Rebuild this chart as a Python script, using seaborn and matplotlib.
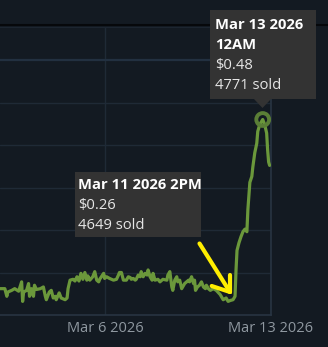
import matplotlib
matplotlib.use("Agg")
import matplotlib.pyplot as plt
import matplotlib.transforms as mtransforms
from matplotlib.lines import Line2D
from matplotlib.patches import Rectangle, Polygon
import seaborn as sns
import pandas as pd

# ---- data (hours since 2026-03-01 00:00, median price in $) ----
hours = [22, 27, 29, 30, 34, 37, 41, 44, 45, 46, 49, 51, 52, 54, 56, 57, 59, 63, 66, 68,
         69, 72, 74, 76, 78, 79, 82, 84, 88, 90, 91, 93, 96, 98, 100, 102, 104, 106, 108, 110,
         111, 113, 116, 118, 120, 122, 123, 127, 128, 130, 133, 137, 140, 142, 143, 145, 147, 150, 152, 154,
         155, 157, 159, 160, 162, 164, 165, 167, 169, 171, 172, 174, 176, 177, 179, 182, 184, 187, 191, 192,
         194, 196, 197, 199, 201, 202, 204, 206, 208, 209, 211, 213, 214, 216, 218, 219, 220, 222, 224, 226,
         228, 230, 231, 233, 235, 238, 241, 245, 247, 248, 251, 253, 255, 258, 260, 261, 262, 264, 266, 268,
         270, 272, 273, 275, 277, 278, 280, 282, 283, 285, 288, 290, 292, 293, 294, 295]
prices = [0.281, 0.281, 0.272, 0.277, 0.279, 0.281, 0.278, 0.289, 0.266, 0.277, 0.279, 0.287, 0.272, 0.281, 0.272, 0.285, 0.280, 0.281, 0.283, 0.272,
          0.268, 0.277, 0.279, 0.270, 0.272, 0.268, 0.276, 0.270, 0.268, 0.270, 0.281, 0.291, 0.292, 0.290, 0.295, 0.290, 0.299, 0.292, 0.300, 0.291,
          0.296, 0.291, 0.295, 0.301, 0.291, 0.289, 0.292, 0.299, 0.293, 0.295, 0.293, 0.291, 0.292, 0.297, 0.300, 0.300, 0.291, 0.291, 0.295, 0.294,
          0.292, 0.293, 0.291, 0.292, 0.297, 0.295, 0.301, 0.295, 0.299, 0.297, 0.303, 0.295, 0.291, 0.299, 0.291, 0.292, 0.289, 0.292, 0.291, 0.297,
          0.301, 0.283, 0.279, 0.291, 0.295, 0.289, 0.291, 0.281, 0.285, 0.287, 0.289, 0.291, 0.289, 0.295, 0.287, 0.291, 0.279, 0.283, 0.285, 0.289,
          0.283, 0.281, 0.285, 0.281, 0.279, 0.281, 0.279, 0.274, 0.270, 0.268, 0.270, 0.266, 0.267, 0.268, 0.272, 0.303, 0.326, 0.335, 0.342, 0.348,
          0.351, 0.348, 0.374, 0.406, 0.413, 0.424, 0.441, 0.452, 0.466, 0.474, 0.480, 0.474, 0.464, 0.444, 0.430, 0.426]

tick_hours = [128.4, 296.4]
tick_labels = ["Mar 6 2026", "Mar 13 2026"]
y_grid = [0.30, 0.35, 0.40, 0.45, 0.50, 0.55]
tip1_lines = ["Mar 13 2026", "12AM", "$0.48", "4771 sold"]
tip2_lines = ["Mar 11 2026 2PM", "$0.26", "4649 sold"]

# ---- style ----
W, H = 328, 347
BG = "#131a22"
GRID = "#1f2a36"
SPINE = "#283442"
LINE = "#6b983b"
FONT = "Open Sans"

sns.set_style("dark")
plt.rcParams["font.family"] = [FONT, "DejaVu Sans"]

fig = plt.figure(figsize=(W / 100, H / 100), dpi=100, facecolor=BG)
ax = fig.add_axes([0, 32 / H, 271 / W, 288 / H])
ax.set_facecolor(BG)

base = pd.Timestamp("2026-03-01")
df = pd.DataFrame({"time": base + pd.to_timedelta(hours, unit="h"), "price": prices})

sns.lineplot(data=df, x="time", y="price", ax=ax, color=LINE, linewidth=2.3,
             solid_joinstyle="round", solid_capstyle="round", zorder=3)

imax = df["price"].idxmax()
ax.scatter([df["time"][imax]], [df["price"][imax]], s=85, facecolors="none",
           edgecolors="#5a7e36", linewidths=2.8, zorder=4)

ax.set_xlim(base + pd.Timedelta(hours=22.1), base + pd.Timedelta(hours=296.4))
ax.set_ylim(0.25, 0.25 + 288 / 850)
ax.set_xticks([base + pd.Timedelta(hours=h) for h in tick_hours])
ax.set_xticklabels(tick_labels)
ax.set_yticks(y_grid)
ax.set_yticklabels([])
ax.set_xlabel("")
ax.set_ylabel("")
ax.tick_params(axis="x", length=0, pad=4, labelcolor="#8f98a0", labelsize=10.5)
ax.tick_params(axis="y", length=0)
ax.grid(True, color=GRID, linewidth=1.0)
for g in ax.get_ygridlines():
    if abs(g.get_ydata()[0] - 0.55) < 1e-6:
        g.set_linewidth(1.6)
        g.set_color("#223040")
ax.spines["left"].set_visible(False)
ax.spines["top"].set_color("#1c2530")
ax.spines["top"].set_linewidth(0.8)
for s in ("bottom", "right"):
    ax.spines[s].set_color(SPINE)
    ax.spines[s].set_linewidth(1.2)

# pixel transform (x from left, y from top)
T = mtransforms.Affine2D().scale(1 / W, -1 / H).translate(0, 1) + fig.transFigure

fig.add_artist(Line2D([0, W], [25.5, 25.5], transform=T, color="#06080b", linewidth=1.5))

# tooltip 1
fig.add_artist(Rectangle((210, 10), 106, 89, transform=T, facecolor="#333333",
                         edgecolor="none", zorder=10))
fig.add_artist(Polygon([[253.5, 98.5], [271.5, 98.5], [262.5, 108]], closed=True,
                       transform=T, facecolor="#333333", edgecolor="none", zorder=10))
for i, t in enumerate(tip1_lines):
    fig.text(215, 29.3 + 20 * i, t, transform=T, fontsize=10.6, va="baseline", ha="left",
             color="#ffffff" if i < 2 else "#e6e6e6",
             fontweight="bold" if i < 2 else "normal", zorder=11)

# tooltip 2
fig.add_artist(Rectangle((75, 172.3), 126, 65, transform=T, facecolor="#333333",
                         edgecolor="none", zorder=10))
for i, t in enumerate(tip2_lines):
    fig.text(78.3, 189.3 + 19.7 * i, t, transform=T, fontsize=10.6, va="baseline", ha="left",
             color="#ffffff" if i < 1 else "#e6e6e6",
             fontweight="bold" if i < 1 else "normal", zorder=11)

# yellow arrow
YEL = "#ffee00"
for xs, ys in (([199.5, 230], [243.5, 292]), ([211.7, 230], [286, 292]), ([230, 230], [275, 292])):
    fig.add_artist(Line2D(xs, ys, transform=T, color=YEL, linewidth=3.0,
                          solid_capstyle="round", zorder=12))

fig.savefig("out.png", dpi=100, facecolor=BG)
